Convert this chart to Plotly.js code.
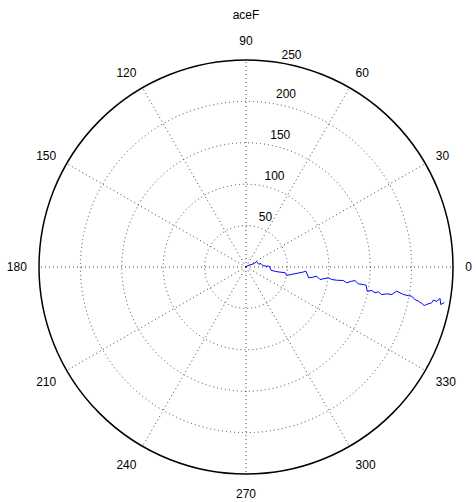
<!DOCTYPE html>
<html>
<head>
<meta charset="utf-8">
<script src="https://cdn.plot.ly/plotly-3.0.1.min.js"></script>
<style>html,body{margin:0;padding:0;background:#fff;}#chart{width:476px;height:502px;}</style>
</head>
<body>
<div id="chart"></div>
<script>
// aceF series (radius, angle in degrees)
var rValues = [1, 4.5, 10.9, 14.5, 15.7, 18.6, 20.3, 24.2, 28.2, 30.4, 34.6, 38.7, 42.7, 48.0, 50.2, 55.1, 60.9, 68.8, 72.6, 76.8, 81.5, 86.1, 90.6, 100.2, 104.6, 110.7, 118.6, 123.1, 128.8, 132.6, 137.1, 143.2, 146.6, 149.4, 154.5, 158.9, 162.6, 167.2, 173.0, 179.1, 184.3, 188.6, 192.9, 199.0, 203.2, 207.9, 212.2, 217.5, 220.3, 222.9, 228.4, 229.7, 234.0, 237.4, 239.5, 243.4];
var thetaValues = [165, 28.6, 22.9, 27.2, 12.4, 13.1, 5.1, 2.3, 2.0, -7.3, -8.4, -8.6, -8.5, -8.4, -11.8, -9.5, -7.4, -5.2, -4.0, -9.8, -8.7, -7.4, -9.6, -7.5, -8.3, -8.3, -7.9, -8.9, -7.65, -7.1, -8.5, -8.5, -8.6, -11.3, -10.6, -11.3, -10.6, -11.5, -10.8, -10.7, -9.1, -9.5, -9.9, -10.0, -10.0, -10.9, -11.2, -11.8, -12.2, -11.7, -10.9, -10.05, -10.2, -9.2, -10.9, -10.2];
var radialTicks = [50, 100, 150, 200, 250];
var radialTickLabels = ['50', '100', '150', '200', '250'];
var angularTicks = [0, 30, 60, 90, 120, 150, 180, 210, 240, 270, 300, 330];
var angularTickLabels = ['0', '30', '60', '90', '120', '150', '180', '210', '240', '270', '300', '330'];
var chartTitle = 'aceF';

var fontFam = '"Liberation Sans", Arial, Helvetica, sans-serif';
var rMax = 250;

var traces = [
  {
    type: 'scatterpolar',
    r: rValues,
    theta: thetaValues,
    mode: 'lines',
    line: {color: '#0000ff', width: 1},
    hoverinfo: 'skip',
    showlegend: false
  },
  {
    type: 'scatterpolar',
    r: radialTicks.map(function (v) { return Math.min(v + 2.5, rMax); }),
    theta: radialTicks.map(function () { return 82; }),
    mode: 'text',
    text: radialTickLabels.map(function (s) { return '\u00a0\u00a0' + s; }),
    textposition: 'top right',
    textfont: {family: fontFam, size: 12, color: '#000'},
    cliponaxis: false,
    hoverinfo: 'skip',
    showlegend: false
  }
];

var gridDash = '1px,3px';

var layout = {
  width: 476,
  height: 502,
  margin: {l: 39, r: 23, t: 60, b: 28, pad: 0},
  paper_bgcolor: '#fff',
  font: {family: fontFam, size: 12, color: '#000'},
  showlegend: false,
  title: {
    text: chartTitle,
    xref: 'paper', x: 0.5, xanchor: 'center',
    yref: 'container', y: 1 - 15 / 502, yanchor: 'middle',
    font: {family: fontFam, size: 12, color: '#000'}
  },
  polar: {
    bgcolor: '#fff',
    radialaxis: {
      range: [0, rMax],
      tickvals: radialTicks,
      showticklabels: false,
      ticks: '',
      showline: false,
      showgrid: true,
      gridcolor: '#444',
      gridwidth: 1,
      griddash: gridDash
    },
    angularaxis: {
      rotation: 0,
      direction: 'counterclockwise',
      tickvals: angularTicks,
      ticktext: angularTickLabels,
      ticks: 'outside',
      ticklen: 9,
      tickcolor: 'rgba(0,0,0,0)',
      tickfont: {family: fontFam, size: 12, color: '#000'},
      showline: true,
      linecolor: '#000',
      linewidth: 1.5,
      showgrid: true,
      gridcolor: '#444',
      gridwidth: 1,
      griddash: gridDash
    }
  }
};

Plotly.newPlot('chart', traces, layout, {staticPlot: true, displayModeBar: false});
</script>
</body>
</html>
